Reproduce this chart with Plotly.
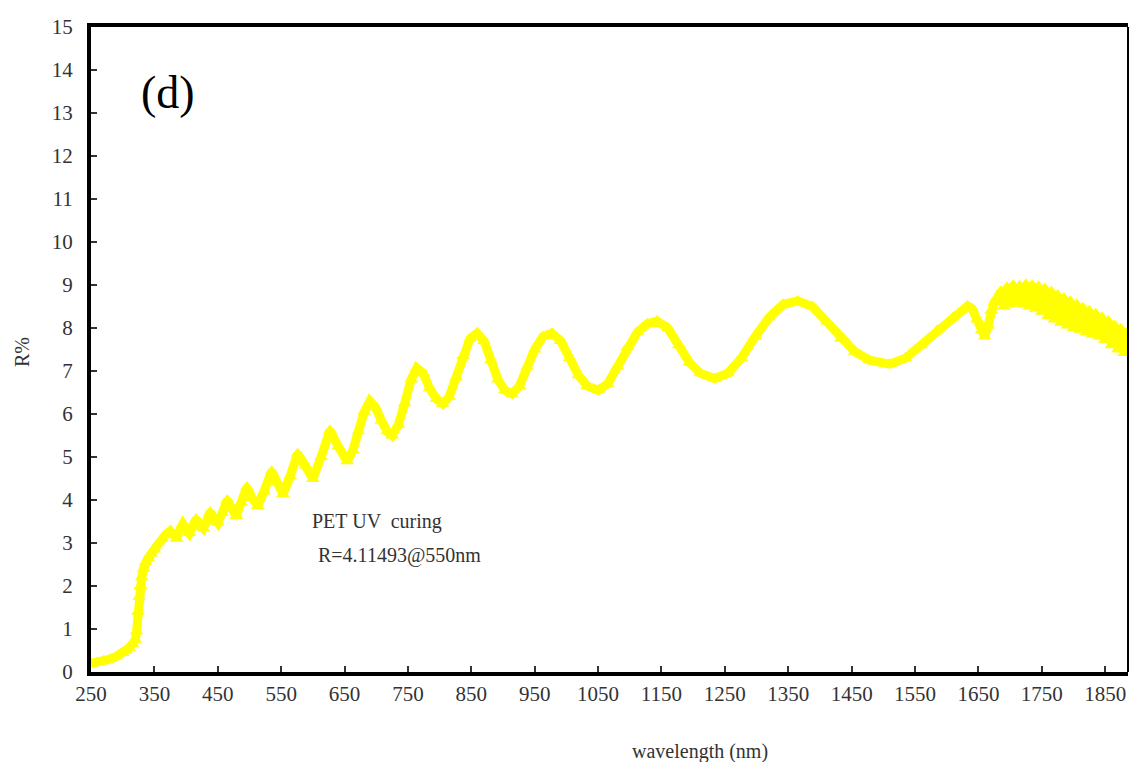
import plotly.graph_objects as go

wavelength = [250, 260, 270, 280, 290, 300, 305, 310, 315, 320, 322, 324, 326, 328, 330, 333, 336, 340, 345, 350, 356, 362, 368,
              375, 380, 385, 390, 395, 400, 405, 410, 416, 421, 427, 432, 438, 444, 450, 457, 465, 472, 479, 487, 496, 504, 513,
              523, 535, 544, 553, 564, 576, 588, 600, 613, 627, 640, 654, 663, 672, 681, 690, 699, 708, 717, 725, 735, 745, 755,
              764, 774, 784, 795, 805, 815, 826, 837, 848, 859, 870, 881, 892, 903, 914, 926, 938, 950, 963, 977, 991, 1005, 1019,
              1033, 1050, 1065, 1080, 1096, 1112, 1128, 1143, 1160, 1177, 1194, 1211, 1234, 1255, 1276, 1298, 1320, 1342, 1365,
              1388, 1411, 1433, 1455, 1478, 1510, 1535, 1560, 1585, 1610, 1633, 1640, 1648, 1655, 1660, 1665, 1670, 1675, 1680,
              1685, 1690, 1695, 1700, 1705, 1710, 1715, 1720, 1725, 1730, 1735, 1740, 1745, 1750, 1755, 1760, 1765, 1770, 1775,
              1780, 1785, 1790, 1795, 1800, 1805, 1810, 1815, 1820, 1825, 1830, 1835, 1840, 1845, 1850, 1855, 1860, 1865, 1870,
              1875, 1880, 1885]
reflectance = [0.20, 0.22, 0.26, 0.30, 0.36, 0.44, 0.50, 0.56, 0.65, 0.75, 0.95, 1.40, 1.75, 2.00, 2.20, 2.40, 2.55, 2.65, 2.75, 2.85, 3.00, 3.10, 3.20,
               3.28, 3.20, 3.10, 3.30, 3.44, 3.33, 3.23, 3.38, 3.56, 3.45, 3.35, 3.50, 3.72, 3.58, 3.47, 3.70, 4.00, 3.80, 3.63, 3.95, 4.30, 4.05, 3.86,
               4.20, 4.67, 4.40, 4.14, 4.55, 5.08, 4.80, 4.49, 5.00, 5.62, 5.25, 4.90, 5.15, 5.60, 6.05, 6.30, 6.15, 5.85, 5.60, 5.50, 5.75, 6.25, 6.80,
               7.07, 6.95, 6.60, 6.35, 6.24, 6.40, 6.85, 7.35, 7.75, 7.88, 7.70, 7.25, 6.80, 6.55, 6.47, 6.65, 7.10, 7.50, 7.80, 7.88, 7.70, 7.30, 6.90,
               6.65, 6.55, 6.70, 7.10, 7.55, 7.90, 8.10, 8.16, 8.00, 7.60, 7.20, 6.95, 6.82, 6.95, 7.30, 7.80, 8.25, 8.55, 8.63,
               8.50, 8.15, 7.75, 7.45, 7.25, 7.16, 7.30, 7.60, 7.95, 8.25, 8.51, 8.45, 8.20, 7.95, 7.80, 8.05, 8.40, 8.60, 8.70,
               8.85, 8.50, 8.95, 8.55, 9.00, 8.60, 8.98, 8.55, 9.02, 8.50, 9.00, 8.45, 8.97, 8.38, 8.92, 8.28, 8.85, 8.20, 8.77,
               8.12, 8.70, 8.06, 8.62, 8.00, 8.55, 7.96, 8.47, 7.90, 8.40, 7.85, 8.34, 7.80, 8.25, 7.72, 8.16, 7.60, 8.06, 7.50,
               7.98, 7.42, 7.90]

x_ticks = [250, 350, 450, 550, 650, 750, 850, 950, 1050, 1150, 1250, 1350, 1450, 1550, 1650, 1750, 1850]
y_ticks = list(range(0, 16))

serif = "Liberation Serif, Times New Roman, serif"
fig = go.Figure()
fig.add_trace(go.Scatter(
    x=wavelength, y=reflectance, mode="lines+markers",
    line=dict(color="#FFFF00", width=9),
    marker=dict(symbol="triangle-up", size=12, color="#FFFF00"),
    showlegend=False, cliponaxis=True, hoverinfo="skip",
))

fig.update_layout(
    width=1131, height=762,
    margin=dict(l=91, r=3, t=27, b=90),
    paper_bgcolor="white", plot_bgcolor="white",
    font=dict(family=serif, size=20, color="#333333"),
    xaxis=dict(range=[250, 1886], tickvals=x_ticks, ticktext=[str(v) for v in x_ticks],
               showgrid=False, zeroline=False, showline=True, linecolor="black", linewidth=4,
               mirror=True, ticks="inside", ticklen=6, tickwidth=2, tickcolor="#333333",
               tickfont=dict(family=serif, size=21, color="#333333")),
    yaxis=dict(range=[0, 15], tickvals=y_ticks, showgrid=False, zeroline=False,
               showline=True, linecolor="black", linewidth=4, mirror=False,
               ticks="inside", ticklen=6, tickwidth=2, tickcolor="#333333",
               ticklabelstandoff=10,
               tickfont=dict(family=serif, size=21, color="#333333")),
    shapes=[dict(type="line", xref="paper", yref="paper", x0=1, x1=1, y0=0, y1=1,
                 line=dict(color="black", width=2))],
    annotations=[
        dict(text="(d)", xref="paper", yref="paper", x=0.074, y=0.898, xanchor="center", yanchor="middle",
             showarrow=False, font=dict(family=serif, size=46, color="black")),
        dict(text="PET UV  curing", xref="paper", yref="paper", x=0.211, y=0.2326,
             xanchor="left", yanchor="middle", showarrow=False,
             font=dict(family=serif, size=20, color="#333333")),
        dict(text="R=4.11493@550nm", xref="paper", yref="paper", x=0.217, y=0.181,
             xanchor="left", yanchor="middle", showarrow=False,
             font=dict(family=serif, size=20, color="#333333")),
        dict(text="wavelength (nm)", xref="paper", yref="paper", x=0.587, y=-0.124,
             xanchor="center", yanchor="middle", showarrow=False,
             font=dict(family=serif, size=20, color="#333333")),
        dict(text="R%", xref="paper", yref="paper", x=-0.0665, y=0.496, textangle=-90,
             xanchor="center", yanchor="middle", showarrow=False,
             font=dict(family=serif, size=20, color="#333333")),
    ],
)

fig.write_html("out.html", config={"displayModeBar": False},
               post_script="document.body.style.margin='0';")
